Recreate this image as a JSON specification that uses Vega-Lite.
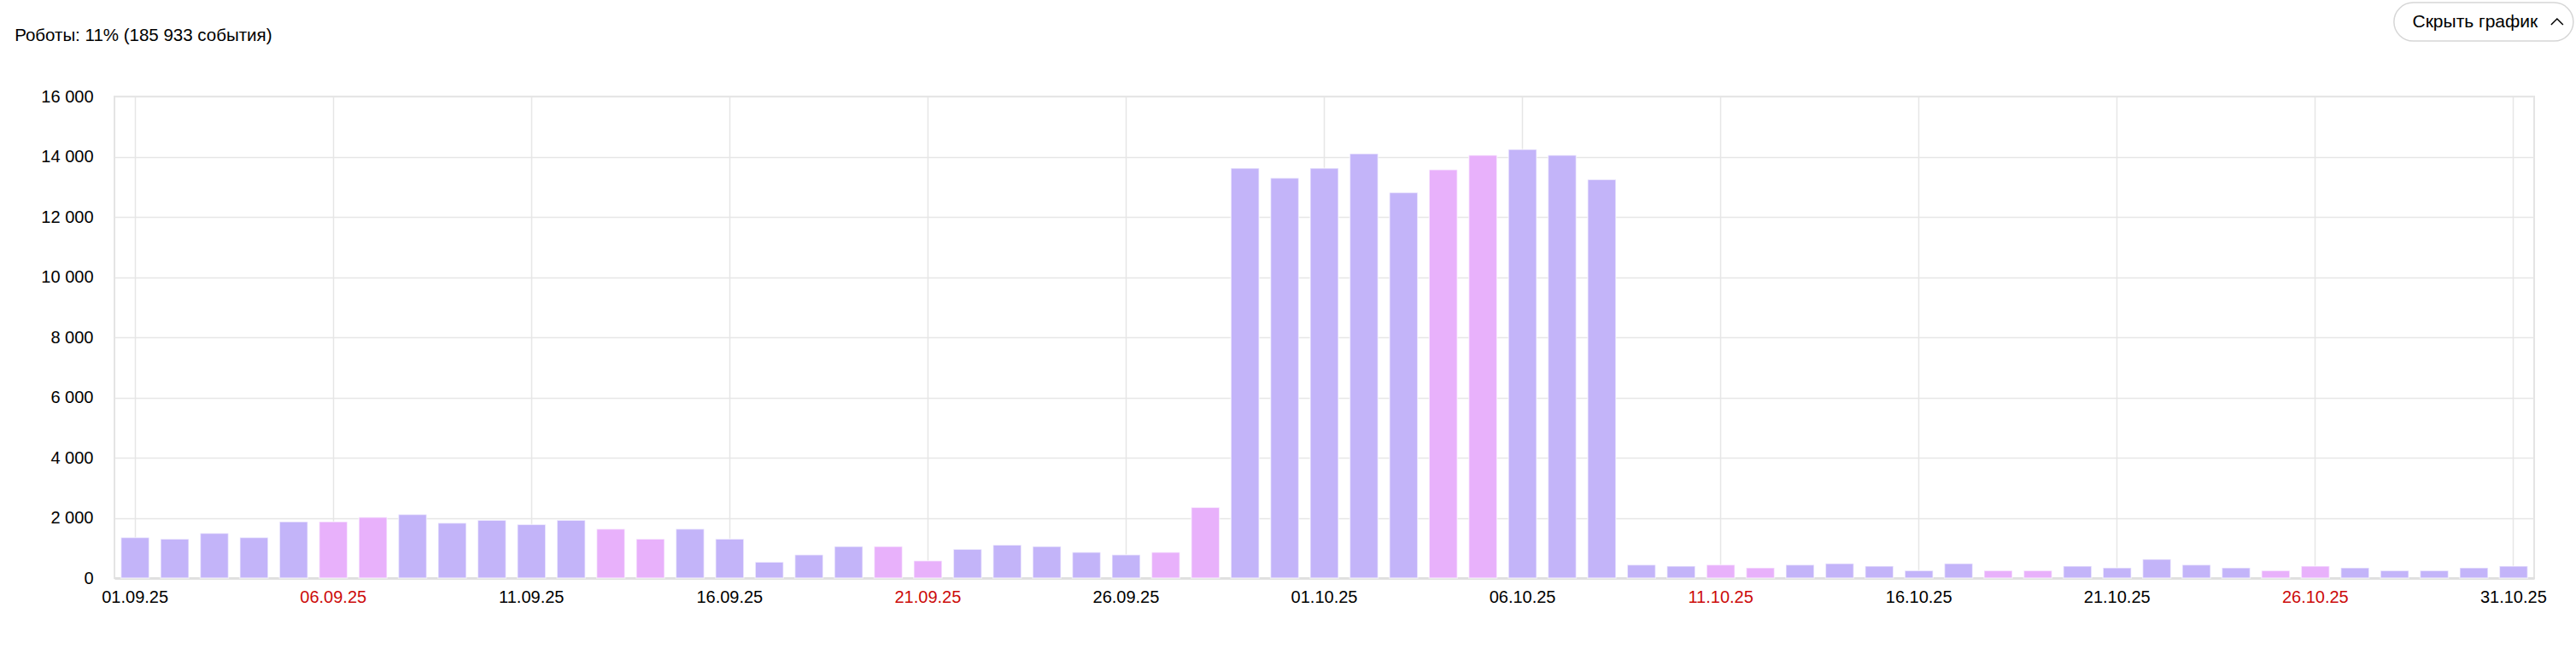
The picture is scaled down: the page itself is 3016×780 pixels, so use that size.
{
  "$schema": "https://vega.github.io/schema/vega-lite/v6.json",
  "autosize": {"type": "none"},
  "width": 2833,
  "height": 564,
  "padding": {"left": 134, "top": 113, "right": 49, "bottom": 103},
  "background": "#ffffff",
  "config": {
    "font": "Liberation Sans",
    "view": {"stroke": "#e4e4e4", "strokeWidth": 2}
  },
  "datasets": {
    "robots": [
      {"date": "01.09.25", "value": 1350, "day": "weekday"},
      {"date": "02.09.25", "value": 1300, "day": "weekday"},
      {"date": "03.09.25", "value": 1490, "day": "weekday"},
      {"date": "04.09.25", "value": 1350, "day": "weekday"},
      {"date": "05.09.25", "value": 1875, "day": "weekday"},
      {"date": "06.09.25", "value": 1875, "day": "weekend"},
      {"date": "07.09.25", "value": 2020, "day": "weekend"},
      {"date": "08.09.25", "value": 2115, "day": "weekday"},
      {"date": "09.09.25", "value": 1830, "day": "weekday"},
      {"date": "10.09.25", "value": 1920, "day": "weekday"},
      {"date": "11.09.25", "value": 1780, "day": "weekday"},
      {"date": "12.09.25", "value": 1920, "day": "weekday"},
      {"date": "13.09.25", "value": 1630, "day": "weekend"},
      {"date": "14.09.25", "value": 1300, "day": "weekend"},
      {"date": "15.09.25", "value": 1630, "day": "weekday"},
      {"date": "16.09.25", "value": 1300, "day": "weekday"},
      {"date": "17.09.25", "value": 530, "day": "weekday"},
      {"date": "18.09.25", "value": 770, "day": "weekday"},
      {"date": "19.09.25", "value": 1050, "day": "weekday"},
      {"date": "20.09.25", "value": 1050, "day": "weekend"},
      {"date": "21.09.25", "value": 575, "day": "weekend"},
      {"date": "22.09.25", "value": 960, "day": "weekday"},
      {"date": "23.09.25", "value": 1100, "day": "weekday"},
      {"date": "24.09.25", "value": 1050, "day": "weekday"},
      {"date": "25.09.25", "value": 860, "day": "weekday"},
      {"date": "26.09.25", "value": 770, "day": "weekday"},
      {"date": "27.09.25", "value": 860, "day": "weekend"},
      {"date": "28.09.25", "value": 2345, "day": "weekend"},
      {"date": "29.09.25", "value": 13620, "day": "weekday"},
      {"date": "30.09.25", "value": 13290, "day": "weekday"},
      {"date": "01.10.25", "value": 13620, "day": "weekday"},
      {"date": "02.10.25", "value": 14100, "day": "weekday"},
      {"date": "03.10.25", "value": 12810, "day": "weekday"},
      {"date": "04.10.25", "value": 13570, "day": "weekend"},
      {"date": "05.10.25", "value": 14050, "day": "weekend"},
      {"date": "06.10.25", "value": 14240, "day": "weekday"},
      {"date": "07.10.25", "value": 14050, "day": "weekday"},
      {"date": "08.10.25", "value": 13240, "day": "weekday"},
      {"date": "09.10.25", "value": 440, "day": "weekday"},
      {"date": "10.10.25", "value": 395, "day": "weekday"},
      {"date": "11.10.25", "value": 440, "day": "weekend"},
      {"date": "12.10.25", "value": 340, "day": "weekend"},
      {"date": "13.10.25", "value": 440, "day": "weekday"},
      {"date": "14.10.25", "value": 480, "day": "weekday"},
      {"date": "15.10.25", "value": 395, "day": "weekday"},
      {"date": "16.10.25", "value": 250, "day": "weekday"},
      {"date": "17.10.25", "value": 480, "day": "weekday"},
      {"date": "18.10.25", "value": 250, "day": "weekend"},
      {"date": "19.10.25", "value": 250, "day": "weekend"},
      {"date": "20.10.25", "value": 395, "day": "weekday"},
      {"date": "21.10.25", "value": 340, "day": "weekday"},
      {"date": "22.10.25", "value": 625, "day": "weekday"},
      {"date": "23.10.25", "value": 440, "day": "weekday"},
      {"date": "24.10.25", "value": 340, "day": "weekday"},
      {"date": "25.10.25", "value": 250, "day": "weekend"},
      {"date": "26.10.25", "value": 395, "day": "weekend"},
      {"date": "27.10.25", "value": 340, "day": "weekday"},
      {"date": "28.10.25", "value": 250, "day": "weekday"},
      {"date": "29.10.25", "value": 250, "day": "weekday"},
      {"date": "30.10.25", "value": 340, "day": "weekday"},
      {"date": "31.10.25", "value": 395, "day": "weekday"}
    ],
    "header": [
      {"label": "Роботы: 11% (185 933 события)", "anchorDate": "01.09.25", "level": 18020}
    ],
    "button": [
      {"label": "Скрыть график", "anchorDate": "31.10.25", "level": 18480}
    ]
  },
  "layer": [
    {
      "data": {"name": "robots"},
      "mark": {"type": "bar", "stroke": "#ffffff", "strokeOpacity": 0.55, "strokeWidth": 1.5},
      "encoding": {
        "x": {
          "field": "date",
          "type": "ordinal",
          "sort": null,
          "scale": {
            "domain": ["01.09.25","02.09.25","03.09.25","04.09.25","05.09.25","06.09.25","07.09.25","08.09.25","09.09.25","10.09.25","11.09.25","12.09.25","13.09.25","14.09.25","15.09.25","16.09.25","17.09.25","18.09.25","19.09.25","20.09.25","21.09.25","22.09.25","23.09.25","24.09.25","25.09.25","26.09.25","27.09.25","28.09.25","29.09.25","30.09.25","01.10.25","02.10.25","03.10.25","04.10.25","05.10.25","06.10.25","07.10.25","08.10.25","09.10.25","10.10.25","11.10.25","12.10.25","13.10.25","14.10.25","15.10.25","16.10.25","17.10.25","18.10.25","19.10.25","20.10.25","21.10.25","22.10.25","23.10.25","24.10.25","25.10.25","26.10.25","27.10.25","28.10.25","29.10.25","30.10.25","31.10.25"],
            "paddingInner": 0.29,
            "paddingOuter": 0.165
          },
          "axis": {
            "title": null,
            "values": ["01.09.25", "06.09.25", "11.09.25", "16.09.25", "21.09.25", "26.09.25", "01.10.25", "06.10.25", "11.10.25", "16.10.25", "21.10.25", "26.10.25", "31.10.25"],
            "labelAngle": 0,
            "labelFontSize": 20,
            "labelFont": "Liberation Sans",
            "labelColor": {
              "condition": {"test": "indexof(['06.09.25','21.09.25','11.10.25','26.10.25'], datum.value) >= 0", "value": "#cc0a0a"},
              "value": "#000000"
            },
            "labelPadding": 12,
            "ticks": false,
            "domain": true,
            "domainColor": "#e0e0e0",
            "domainWidth": 3,
            "grid": true,
            "gridColor": "#e6e6e6",
            "gridWidth": 1.5,
            "bandPosition": 0.5
          }
        },
        "y": {
          "field": "value",
          "type": "quantitative",
          "scale": {"domain": [0, 16000], "nice": false},
          "axis": {
            "title": null,
            "values": [0, 2000, 4000, 6000, 8000, 10000, 12000, 14000, 16000],
            "labelExpr": "replace(format(datum.value, ','), ',', ' ')",
            "labelFontSize": 20,
            "labelFont": "Liberation Sans",
            "labelColor": "#000000",
            "labelPadding": 25,
            "ticks": false,
            "domain": false,
            "grid": true,
            "gridColor": "#e6e6e6",
            "gridWidth": 1.5
          }
        },
        "color": {
          "field": "day",
          "type": "nominal",
          "scale": {"domain": ["weekday", "weekend"], "range": ["#c3b4f9", "#e8b1fb"]},
          "legend": null
        }
      }
    },
    {
      "data": {"name": "header"},
      "mark": {"type": "text", "fontSize": 20.5, "font": "Liberation Sans", "color": "#000000", "align": "left", "baseline": "middle", "dx": -141},
      "encoding": {
        "x": {"field": "anchorDate", "type": "ordinal"},
        "y": {"field": "level", "type": "quantitative"},
        "text": {"field": "label"}
      }
    },
    {
      "data": {"name": "button"},
      "mark": {
        "type": "point",
        "shape": "M-0.786,-0.214 L0.786,-0.214 A0.214,0.214 0 0 1 0.786,0.214 L-0.786,0.214 A0.214,0.214 0 0 1 -0.786,-0.214 Z",
        "size": 44100,
        "filled": false,
        "stroke": "#d6d6d6",
        "strokeWidth": 1.5,
        "opacity": 1,
        "xOffset": -35
      },
      "encoding": {
        "x": {"field": "anchorDate", "type": "ordinal"},
        "y": {"field": "level", "type": "quantitative"}
      }
    },
    {
      "data": {"name": "button"},
      "mark": {"type": "text", "fontSize": 21, "font": "Liberation Sans", "color": "#000000", "align": "center", "baseline": "middle", "dx": -45},
      "encoding": {
        "x": {"field": "anchorDate", "type": "ordinal"},
        "y": {"field": "level", "type": "quantitative"},
        "text": {"field": "label"}
      }
    },
    {
      "data": {"name": "button"},
      "mark": {
        "type": "point",
        "shape": "M-1,0.5 L0,-0.5 L1,0.5",
        "size": 196,
        "filled": false,
        "stroke": "#000000",
        "strokeWidth": 1.5,
        "opacity": 1,
        "xOffset": 51
      },
      "encoding": {
        "x": {"field": "anchorDate", "type": "ordinal"},
        "y": {"field": "level", "type": "quantitative"}
      }
    }
  ]
}
